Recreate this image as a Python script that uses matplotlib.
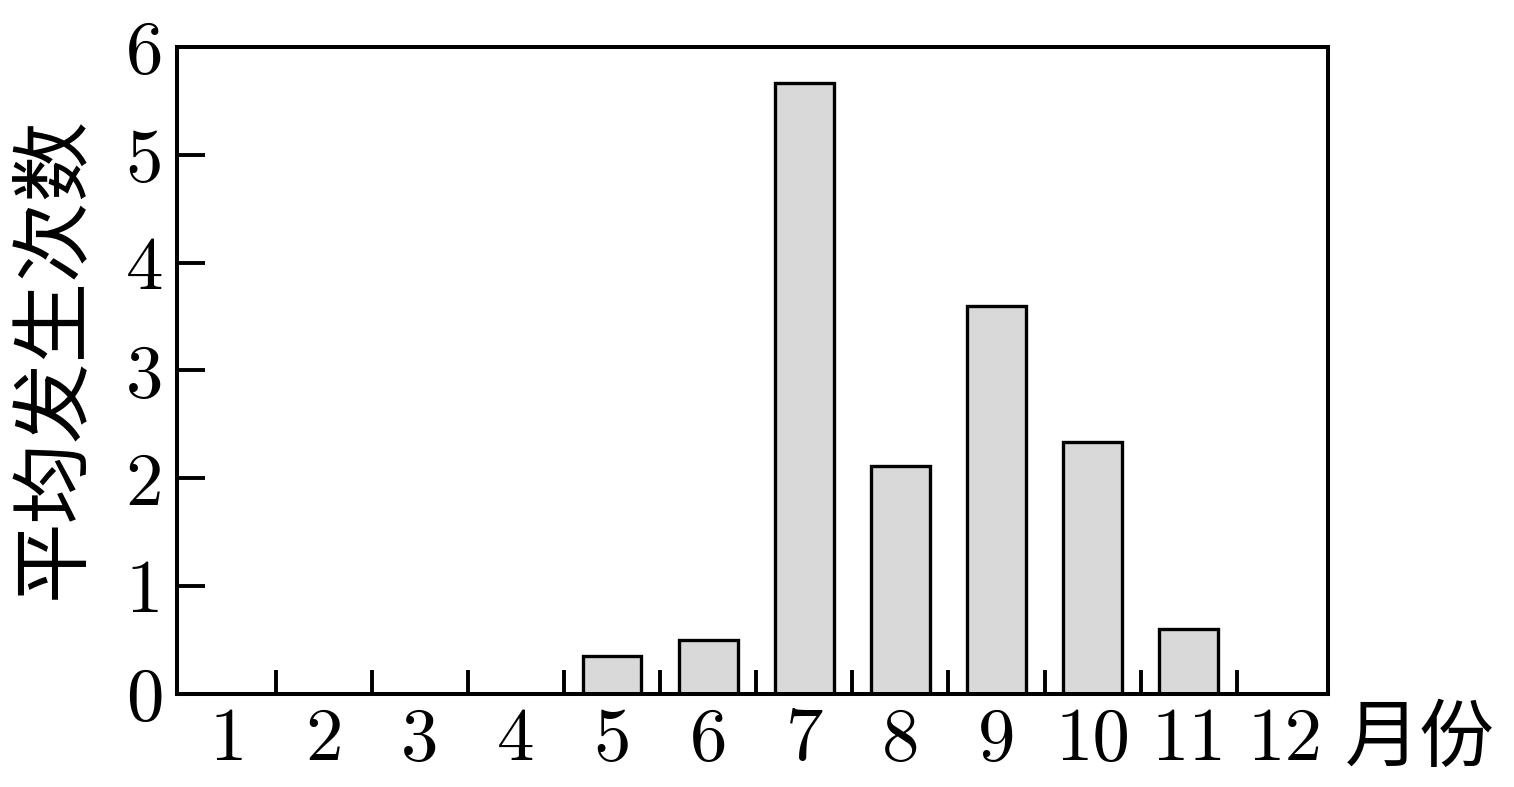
import numpy as np
import matplotlib.pyplot as plt

plt.rcParams['font.family'] = ['cmr10', 'DejaVu Serif']

months = list(range(1, 13))
month_labels = [str(m) for m in months]
counts = [0, 0, 0, 0, 0.35, 0.5, 5.67, 2.11, 3.6, 2.34, 0.6, 0]
y_ticks = [0, 1, 2, 3, 4, 5, 6]

fig = plt.figure(figsize=(15.14, 7.87), dpi=100)
ax = fig.add_axes([0.1169, 0.1182, 0.7602, 0.8221])

ax.bar(months, counts, width=0.61, color='#d9d9d9', edgecolor='black', linewidth=2.4, zorder=2)

ax.set_xlim(0.47, 12.45)
ax.set_ylim(0, 6)
ax.set_xticks(months)
ax.set_xticklabels(month_labels)
ax.set_xticks(np.arange(1.5, 12, 1), minor=True)
ax.tick_params(axis='x', which='major', length=0, pad=10, labelsize=54)
ax.tick_params(axis='x', which='minor', direction='in', length=17, width=2.8)
ax.set_yticks(y_ticks)
ax.set_yticklabels([str(v) for v in y_ticks])
ax.tick_params(axis='y', direction='in', length=20, width=2.8, pad=10, labelsize=54)
for s in ax.spines.values():
    s.set_linewidth(2.9)

ax.set_ylabel('平均发生次数', fontsize=58, family=['Noto Sans CJK SC'])
ax.yaxis.set_label_coords(-0.072, 0.52)
ax.text(1.0148, -0.07, '月份', transform=ax.transAxes, fontsize=54,
        family=['Noto Sans CJK SC'], ha='left', va='center')

fig.savefig('out.png', dpi=100)
